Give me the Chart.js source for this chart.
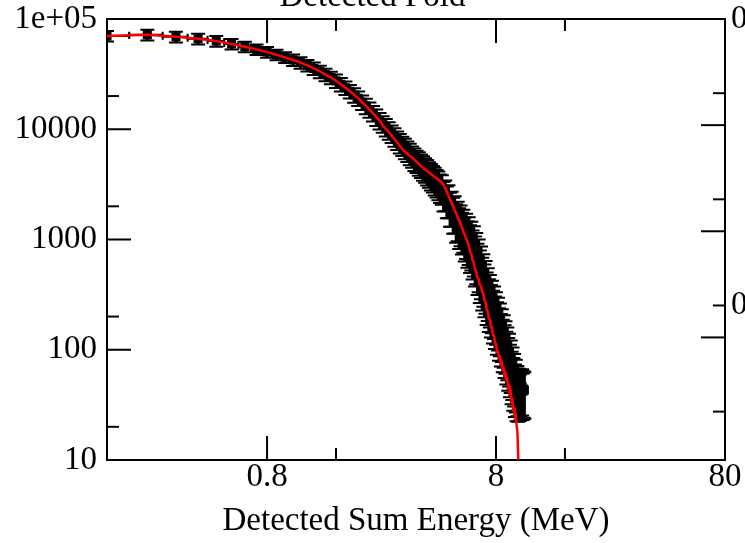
<!DOCTYPE html>
<html><head><meta charset="utf-8">
<script src="https://cdn.jsdelivr.net/npm/chart.js@4.4.1/dist/chart.umd.min.js"></script>
<style>
html,body{margin:0;padding:0;background:#fff;overflow:hidden;width:745px;height:543px;}
#wrap{position:absolute;left:0;top:-24px;width:745px;height:567px;}
</style></head><body>
<div id="wrap"><canvas id="c"></canvas></div>
<script>
// ---- data ----
const energy = [0.16,0.24,0.32,0.40,0.48,0.56,0.64,0.72,0.80,0.88,0.96,1.04,1.12,1.20,1.28,1.36,1.44,1.52,1.60,1.68,1.76,1.84,1.92,2.00,2.08,2.16,2.24,2.32,2.40,2.48,2.56,2.64,2.72,2.80,2.88,2.96,3.04,3.12,3.20,3.28,3.36,3.44,3.52,3.60,3.68,3.76,3.84,3.92,4.00,4.08,4.16,4.24,4.32,4.40,4.48,4.56,4.64,4.72,4.80,4.88,4.96,5.04,5.12,5.20,5.28,5.36,5.44,5.52,5.60,5.68,5.76,5.84,5.92,6.00,6.08,6.16,6.24,6.32,6.40,6.48,6.56,6.64,6.72,6.80,6.88,6.96,7.04,7.12,7.20,7.28,7.36,7.44,7.52,7.60,7.68,7.76,7.84,7.92,8.00,8.08,8.16,8.24,8.32,8.40,8.48,8.56,8.64,8.72,8.80,8.88,8.96,9.04,9.12,9.20,9.28,9.36,9.44,9.52,9.60,9.68,9.76,9.84,9.92,10.00,10.08,10.16,10.24,10.32,10.40,10.48,10.56,10.64];
const counts = [70200,71800,68900,66100,63100,59300,56100,53000,50100,47400,44900,42500,40200,38000,35600,33400,31300,29400,27500,25600,23800,22100,20500,19100,17600,16300,15100,14000,12900,12000,11200,10500,9800,9160,8570,8020,7550,7140,6760,6400,6050,5730,5430,5200,4980,4760,4550,4360,4170,3990,3820,3650,3490,3340,3200,3020,2950,2560,2620,2290,2330,1980,2010,1760,1800,1510,1580,1370,1450,1240,1310,1110,1190,1010,1090,920,985,820,890,720,770,615,665,530,575,455,490,395,425,335,365,290,318,258,282,228,250,203,222,180,197,159,175,141,155,125,137,111,121,97,106,85,93,74,81,64,70,56,61,49,54,45,48,42,46,41,45,42,46,42,44,43];
const countErrPct = [11,11,11,11,11,11,11,11,11,11,11,12,12,12,13,13,13,13,14,14,14,14,15,15,15,16,16,16,17,17,17,18,18,18,19,19,20,20,21,21,22,22,23,23,24,24,25,25,26,26,27,27,28,28,29,29,30,30,31,32,33,34,35,36,37,38,39,40,40,41,42,43,44,45,46,46,47,47,48,48,49,49,50,50,50,50,50,50,50,50,50,50,50,50,50,50,50,50,50,50,50,50,50,50,50,50,50,50,50,50,50,50,50,50,50,50,50,50,50,50,50,50,48,47,46,45,45,45,45,45,45,45];
const energyHalfWidth = 0.04;
const model = [70200,71800,68900,66100,63100,59300,56100,53000,50100,47400,44900,42500,40200,38000,35600,33400,31300,29400,27500,25600,23800,22100,20500,19100,17600,16300,15100,14000,12900,12000,10830,10090,9400,8750,8150,7590,7060,6580,6250,6000,5750,5510,5280,5070,4860,4660,4470,4320,4190,4060,3930,3800,3690,3590,3480,3390,3300,3150,2910,2690,2490,2310,2150,1995,1850,1720,1600,1480,1380,1280,1190,1100,1030,955,890,780,740,650,615,535,510,450,435,385,378,335,325,280,270,232,225,193,189,162,160,136,135,114,113,96,98,85,86,75,77,67,68,59,61,53,54,46,47,40,41,34,35,29,29.5,24.5,25,20.5,18,11,1];

const title = 'Detected Fold';
const xTitle = 'Detected Sum Energy (MeV)';
const xMajorTicks = [0.8, 8, 80];
const xMinorTicks = [0.16, 1.6, 16];
const xTickLabels = ['0.8', '8', '80'];
const yMajorTicks = [10, 100, 1000, 10000, 100000];
const yMinorTicks = [20, 200, 2000, 20000];
const yTickLabels = ['10', '100', '1000', '10000', '1e+05'];
const y2MajorTicks = [1, 0.1, 0.01, 0.001];
const y2MinorTicks = [0.2, 0.02, 0.002, 0.0002];
const y2LabelledTicks = [1, 0.002];
const y2TickLabel = '0';

// ---- drawing ----
const FONT = "'Liberation Serif', 'Times New Roman', serif";
Chart.defaults.font.family = FONT;
Chart.defaults.color = '#000';

const dataPoints = energy.map((e, i) => ({x: e, y: counts[i]}));
const modelPoints = model.map((m, i) => ({x: energy[i], y: m}));

const errorBars = {
  id: 'errorBars',
  beforeDatasetsDraw(chart) {
    const {ctx, chartArea: a, scales: {x, y}} = chart;
    ctx.save();
    ctx.beginPath(); ctx.rect(a.left, a.top, a.right - a.left, a.bottom - a.top); ctx.clip();
    ctx.strokeStyle = '#000';
    const cap = 7, hcap = 3;
    energy.forEach((e, i) => {
      const c = counts[i], err = c * countErrPct[i] / 100;
      const px = x.getPixelForValue(e), py = y.getPixelForValue(c);
      const yt = y.getPixelForValue(c + err), yb = y.getPixelForValue(c - err);
      const xl = x.getPixelForValue(e - energyHalfWidth), xr = x.getPixelForValue(e + energyHalfWidth);
      ctx.lineWidth = 3;
      ctx.beginPath();
      ctx.moveTo(px, yt); ctx.lineTo(px, yb);
      ctx.stroke();
      ctx.lineWidth = 2;
      ctx.beginPath();
      ctx.moveTo(px - cap, yt); ctx.lineTo(px + cap, yt);
      ctx.moveTo(px - cap, yb); ctx.lineTo(px + cap, yb);
      ctx.moveTo(xl, py); ctx.lineTo(xr, py);
      ctx.moveTo(xl, py - hcap); ctx.lineTo(xl, py + hcap);
      ctx.moveTo(xr, py - hcap); ctx.lineTo(xr, py + hcap);
      ctx.stroke();
    });
    ctx.restore();
  }
};

const inwardTicks = {
  id: 'inwardTicks',
  afterDraw(chart) {
    const {ctx, chartArea: a, scales} = chart;
    ctx.save();
    ctx.strokeStyle = '#000'; ctx.lineWidth = 2;
    const seg = (x1, y1, x2, y2) => { ctx.beginPath(); ctx.moveTo(x1, y1); ctx.lineTo(x2, y2); ctx.stroke(); };
    const MAJ = 24, MIN = 12;
    xMajorTicks.forEach(v => { const p = scales.x.getPixelForValue(v); seg(p, a.bottom, p, a.bottom - MAJ); });
    xMinorTicks.forEach(v => { const p = scales.x.getPixelForValue(v); seg(p, a.bottom, p, a.bottom - MIN); });
    xMajorTicks.forEach(v => { const p = scales.x2.getPixelForValue(v); seg(p, a.top, p, a.top + MAJ); });
    xMinorTicks.forEach(v => { const p = scales.x2.getPixelForValue(v); seg(p, a.top, p, a.top + MIN); });
    yMajorTicks.forEach(v => { const p = scales.y.getPixelForValue(v); seg(a.left, p, a.left + MAJ, p); });
    yMinorTicks.forEach(v => { const p = scales.y.getPixelForValue(v); seg(a.left, p, a.left + MIN, p); });
    y2MajorTicks.forEach(v => { const p = scales.y2.getPixelForValue(v); seg(a.right, p, a.right - MAJ, p); });
    y2MinorTicks.forEach(v => { const p = scales.y2.getPixelForValue(v); seg(a.right, p, a.right - MIN, p); });
    ctx.restore();
  }
};

const labelFont = {family: FONT, size: 33, weight: 'normal'};
const noGrid = {display: false, drawTicks: false};
const border = {display: true, color: '#000', width: 2};

new Chart(document.getElementById('c'), {
  type: 'scatter',
  data: {
    datasets: [
      {label: 'model', data: modelPoints, showLine: true, pointRadius: 0, borderColor: '#ff0000', borderWidth: 2.5, tension: 0},
      {label: 'data', data: dataPoints, showLine: false, pointStyle: 'rect', pointRadius: 6.4, backgroundColor: '#000', borderWidth: 0}
    ]
  },
  options: {
    responsive: true, maintainAspectRatio: false, animation: false, devicePixelRatio: 1,
    layout: {padding: 0},
    events: [],
    plugins: {
      legend: {display: false}, tooltip: {enabled: false},
      title: {display: true, text: title, color: '#000', font: labelFont, padding: {top: 2, bottom: 0}}
    },
    scales: {
      x: {
        type: 'logarithmic', position: 'bottom', min: 0.16, max: 80,
        grid: noGrid, border: border,
        afterBuildTicks: s => { s.ticks = xMajorTicks.map(v => ({value: v})); },
        ticks: {font: labelFont, color: '#000', padding: -2, maxRotation: 0, autoSkip: false,
          callback: (v) => xTickLabels[xMajorTicks.indexOf(v)]},
        title: {display: true, text: xTitle, font: labelFont, color: '#000', padding: {top: 0, bottom: 2}},
        afterFit: s => { s.height = 83; }
      },
      x2: {
        type: 'logarithmic', position: 'top', min: 0.16, max: 80,
        grid: noGrid, border: border, ticks: {display: false},
        afterFit: s => { s.height = 1.4; }
      },
      y: {
        type: 'logarithmic', position: 'left', min: 10, max: 100000,
        grid: noGrid, border: border,
        afterBuildTicks: s => { s.ticks = yMajorTicks.map(v => ({value: v})); },
        ticks: {font: labelFont, color: '#000', padding: 10, autoSkip: false,
          callback: (v) => yTickLabels[yMajorTicks.indexOf(v)]},
        afterFit: s => { s.width = 107; }
      },
      y2: {
        type: 'logarithmic', position: 'right', min: 7.11e-5, max: 1,
        grid: noGrid, border: border,
        afterBuildTicks: s => { s.ticks = y2LabelledTicks.map(v => ({value: v})); },
        ticks: {font: labelFont, color: '#000', padding: 6, autoSkip: false, callback: () => y2TickLabel},
        afterFit: s => { s.width = 20; }
      }
    }
  },
  plugins: [errorBars, inwardTicks]
});
</script>
</body></html>
